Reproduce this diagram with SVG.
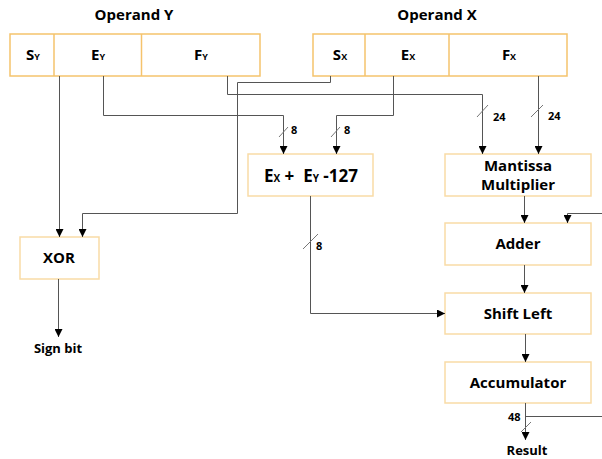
<svg xmlns="http://www.w3.org/2000/svg" width="602" height="459" viewBox="0 0 602 459">
<defs>
<marker id="arr" markerWidth="8" markerHeight="8" refX="8" refY="4" orient="auto" markerUnits="userSpaceOnUse">
<path d="M0,0 L8,4 L0,8 Z" fill="#000"/>
</marker>
<style>
text{font-family:"Open Sans","Noto Sans","Liberation Sans",sans-serif;font-weight:bold;fill:#000}
.t{font-size:15px;text-anchor:middle}
.b{font-size:15px;text-anchor:middle}
.big{font-size:17px;text-anchor:middle}
.sub{font-size:9px}
.sub2{font-size:10px}
.s{font-size:11px}
.m{font-size:13px;text-anchor:middle}
.reg{fill:#fff;stroke:#F5C36C;stroke-width:1.5}
.box{fill:#fff;stroke:#F9DBA6;stroke-width:1.5}
.ln{fill:none;stroke:#555;stroke-width:1}
.ar{marker-end:url(#arr)}
.sl{stroke:#777;stroke-width:1}
</style>
</defs>
<rect width="602" height="459" fill="#fff"/>

<text class="t" x="134" y="20">Operand Y</text>
<text class="t" x="437" y="20">Operand X</text>

<g id="regY">
<rect class="reg" x="10" y="34" width="250" height="42"/>
<line x1="54" y1="34" x2="54" y2="76" stroke="#F5C36C" stroke-width="1.5"/>
<line x1="141.5" y1="34" x2="141.5" y2="76" stroke="#F5C36C" stroke-width="1.5"/>
<text class="b" x="33" y="60">S<tspan class="sub">Y</tspan></text>
<text class="b" x="98" y="60">E<tspan class="sub">Y</tspan></text>
<text class="b" x="201" y="60">F<tspan class="sub">Y</tspan></text>
</g>

<g id="regX">
<rect class="reg" x="313" y="34" width="254" height="42"/>
<line x1="365" y1="34" x2="365" y2="76" stroke="#F5C36C" stroke-width="1.5"/>
<line x1="449" y1="34" x2="449" y2="76" stroke="#F5C36C" stroke-width="1.5"/>
<text class="b" x="340" y="60">S<tspan class="sub">X</tspan></text>
<text class="b" x="408" y="60">E<tspan class="sub">X</tspan></text>
<text class="b" x="509" y="60">F<tspan class="sub">X</tspan></text>
</g>

<g id="expadd">
<rect class="box" x="248" y="154" width="125" height="42"/>
<text class="big" x="311" y="182" xml:space="preserve">E<tspan class="sub2">X</tspan> +  E<tspan class="sub2">Y</tspan> -127</text>
</g>

<g id="mult">
<rect class="box" x="445" y="154" width="146" height="42"/>
<text class="b" x="518" y="171">Mantissa</text>
<text class="b" x="518" y="190">Multiplier</text>
</g>

<g id="adder">
<rect class="box" x="445" y="223" width="146" height="42"/>
<text class="b" x="518" y="249">Adder</text>
</g>

<g id="shift">
<rect class="box" x="445" y="293" width="146" height="41"/>
<text class="b" x="518" y="319">Shift Left</text>
</g>

<g id="acc">
<rect class="box" x="445" y="362" width="146" height="41"/>
<text class="b" x="518" y="388">Accumulator</text>
</g>

<g id="xor">
<rect class="box" x="20" y="237" width="79" height="42"/>
<text class="b" x="59" y="263">XOR</text>
</g>

<g id="connectors">
<polyline class="ln ar" points="59.5,76 59.5,237"/>
<polyline class="ln ar" points="103.5,76 103.5,115.5 283.5,115.5 283.5,154"/>
<polyline class="ln ar" points="227.5,76 227.5,94.5 482.5,94.5 482.5,154"/>
<polyline class="ln ar" points="330.5,76 330.5,82.5 237.5,82.5 237.5,213.5 82.5,213.5 82.5,237"/>
<polyline class="ln ar" points="393.5,76 393.5,115.5 336.5,115.5 336.5,154"/>
<polyline class="ln ar" points="538.5,76 538.5,154"/>
<polyline class="ln ar" points="524.5,196 524.5,223"/>
<polyline class="ln ar" points="602,213.5 567.5,213.5 567.5,223"/>
<polyline class="ln ar" points="524.5,265 524.5,293"/>
<polyline class="ln ar" points="310.5,196 310.5,313.5 445,313.5"/>
<polyline class="ln ar" points="525.5,334 525.5,362"/>
<polyline class="ln ar" points="525.5,403 525.5,440"/>
<polyline class="ln" points="525.5,416.5 602,416.5"/>
<polyline class="ln ar" points="58.5,279 58.5,337"/>
<line class="sl" x1="279" y1="137" x2="288" y2="127"/>
<line class="sl" x1="331" y1="137" x2="340" y2="127"/>
<line class="sl" x1="477" y1="117" x2="488" y2="105"/>
<line class="sl" x1="531" y1="117" x2="543" y2="105"/>
<line class="sl" x1="303" y1="249" x2="318" y2="234"/>
<line class="sl" x1="521" y1="432" x2="531" y2="422"/>
<text class="s" x="291" y="134">8</text>
<text class="s" x="344" y="134">8</text>
<text class="s" x="493" y="121">24</text>
<text class="s" x="548" y="120">24</text>
<text class="s" x="316" y="250">8</text>
<text class="s" x="508" y="421">48</text>
</g>

<text class="m" x="58" y="353">Sign bit</text>
<text class="m" x="527" y="455">Result</text>
</svg>
